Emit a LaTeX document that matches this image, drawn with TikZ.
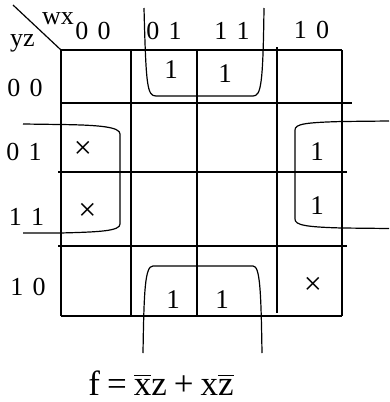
\documentclass[tikz,border=0pt]{standalone}
\usepackage{fontspec}
\setmainfont{Liberation Serif}
\newcommand\barover[1]{\leavevmode\vbox{\hrule height 1.1pt\kern 3pt\hbox{#1}}}
\newcommand\gap{\hspace{0.36em}}
\newcommand\fgap{\hspace{0.2em}}
\begin{document}
\begin{tikzpicture}[x=1pt,y=-1pt,
  gridline/.style={line width=1.2pt},
  loopline/.style={line width=1.2pt},
  lbl/.style={anchor=base,inner sep=0pt,font=\fontsize{26}{26}\selectfont},
  hdr/.style={anchor=base,inner sep=0pt,font=\fontsize{26}{26}\selectfont},
  cell/.style={anchor=base,inner sep=0pt,font=\fontsize{27}{27}\selectfont},
  dc/.style={anchor=center,inner sep=0pt,font=\fontsize{32}{32}\selectfont}]
\useasboundingbox (0,0) rectangle (389,402);
% grid
\draw[gridline] (61,50) -- (61,316);
\draw[gridline] (131,50) -- (131,316);
\draw[gridline] (197,50) -- (197,316);
\draw[gridline] (277,47) -- (277,313);
\draw[gridline] (342,50) -- (342,316);
\draw[gridline] (61,50) -- (342,50);
\draw[gridline] (60,103) -- (352,103);
\draw[gridline] (58,172) -- (347,172);
\draw[gridline] (58,246) -- (347,246);
\draw[gridline] (61,316) -- (342,316);
\draw[gridline] (13,5) -- (61,50);
% headers
\node[hdr] (wx) at (58,24) {wx};
\node[hdr] (yz) at (22.5,46.5) {yz};
\node[lbl] (c00) at (93,39) {0\gap0};
\node[lbl] (c01) at (164,39) {0\gap1};
\node[lbl] (c11) at (232,39) {1\gap1};
\node[lbl] (c10) at (311.5,38.5) {1\gap0};
\node[lbl] (r00) at (25,96.5) {0\gap0};
\node[lbl] (r01) at (24,160.5) {0\gap1};
\node[lbl] (r11) at (26.5,225) {1\gap1};
\node[lbl] (r10) at (28,295) {1\gap0};
% cells
\node[cell] (a1) at (171,78) {1};
\node[cell] (a2) at (225,82) {1};
\node[dc] (x1) at (83,149.5) {×};
\node[dc] (x2) at (87.5,211.5) {×};
\node[cell] (b1) at (317,160) {1};
\node[cell] (b2) at (317,214) {1};
\node[cell] (d1) at (173,308) {1};
\node[cell] (d2) at (222,308) {1};
\node[dc] (x3) at (313,286) {×};
% loops
\draw[loopline] (144,8) .. controls (146,85) and (147,96) .. (156,96) -- (253,96) .. controls (261,96) and (263,85) .. (264,8);
\draw[loopline] (23,124) -- (60,124.5) .. controls (100,125) and (120,127) .. (120,134) -- (120,224) .. controls (120,231) and (100,232) .. (60,233) -- (23,233);
\draw[loopline] (389,121) -- (342,121.5) .. controls (305,122.5) and (295,124) .. (295,130) -- (295,219) .. controls (295,225) and (305,227) .. (342,228) -- (389,228.5);
\draw[loopline] (143,353) .. controls (144,290) and (145,266) .. (153,266) -- (253,266) .. controls (260,266) and (261,290) .. (262,353);
% formula
\node[anchor=base,inner sep=0pt,font=\fontsize{35}{35}\selectfont] (f) at (161,395) {f\fgap=\fgap\barover{x}z\fgap+\fgap x\barover{z}};
\end{tikzpicture}
\end{document}
